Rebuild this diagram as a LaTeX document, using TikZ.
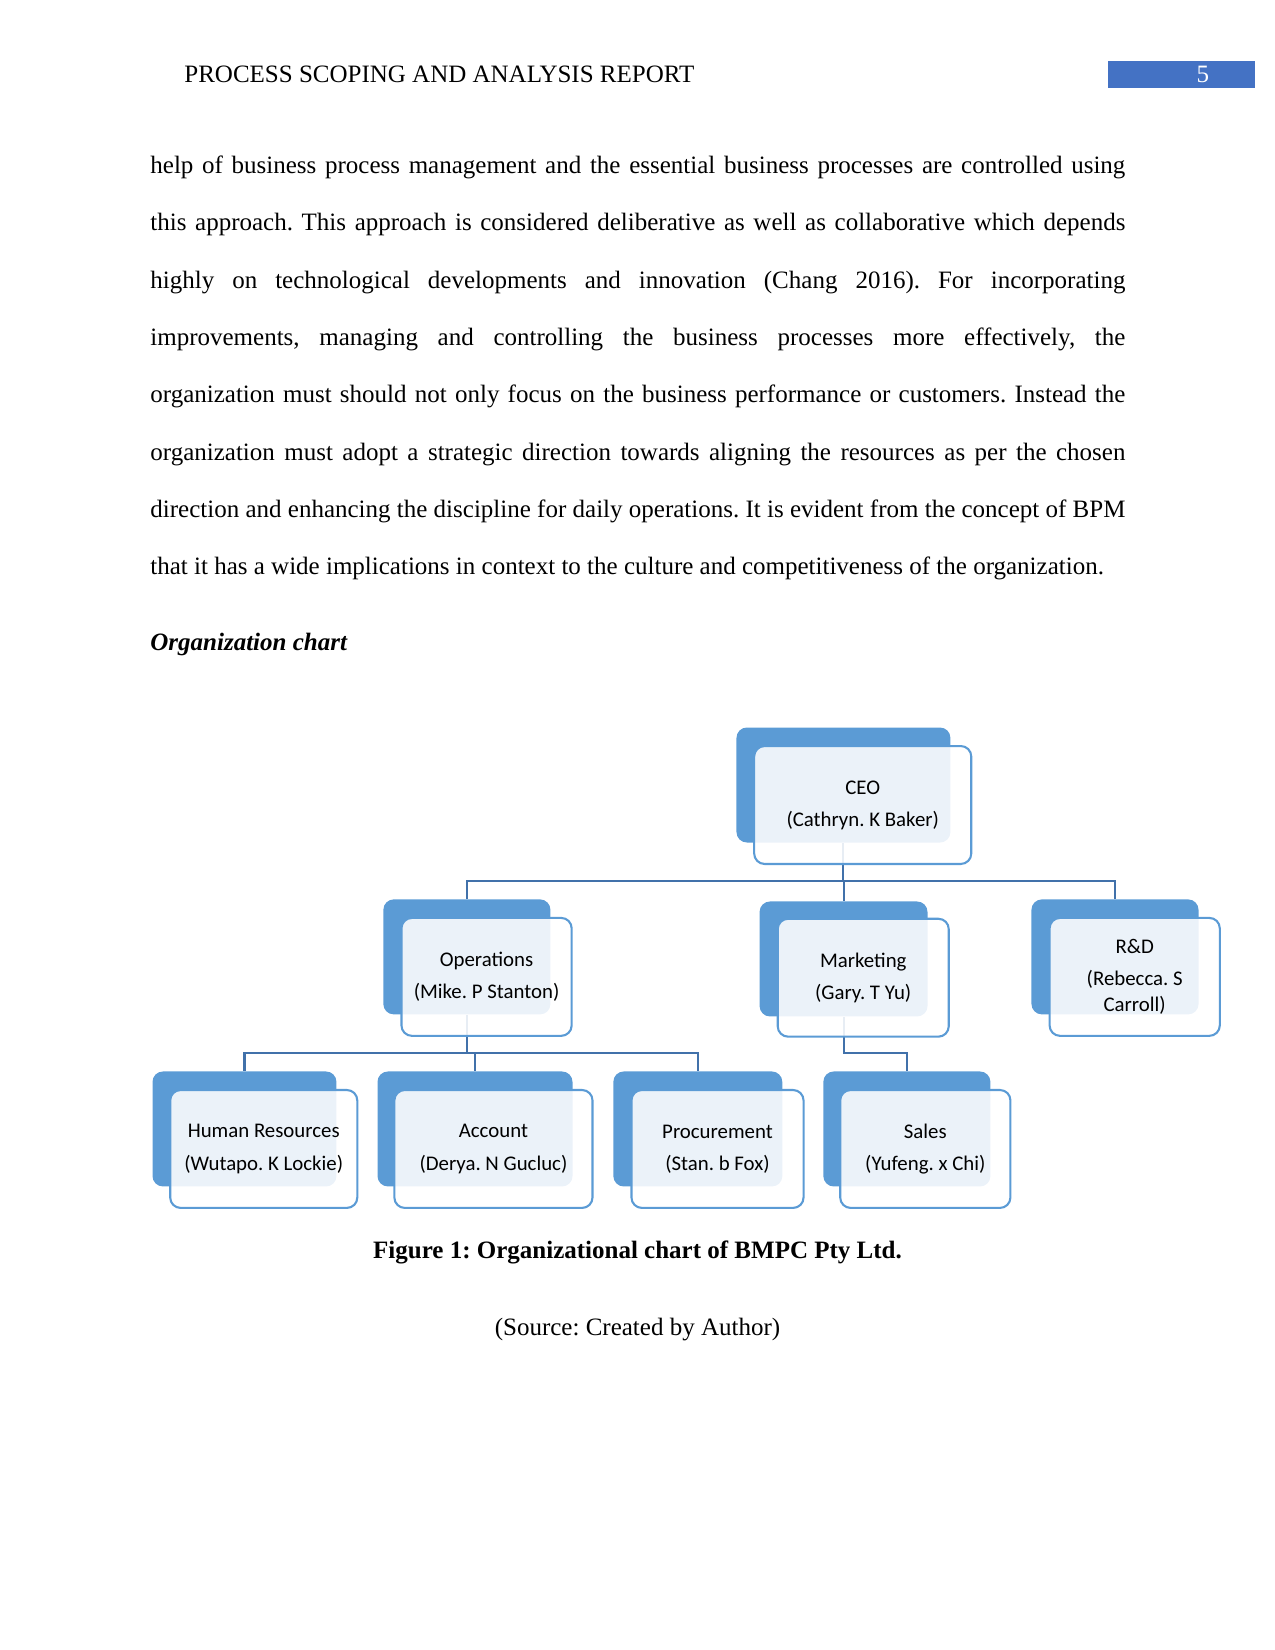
\documentclass[tikz,border=0pt]{standalone}
\usepackage{fontspec}
\setmainfont{Liberation Serif}
\newfontfamily\chartfont{Carlito}
\usetikzlibrary{positioning, backgrounds}
\frenchspacing
\definecolor{orgblue}{RGB}{91,155,213}
\definecolor{linkblue}{RGB}{65,113,170}
\definecolor{pageblue}{RGB}{68,114,196}
\tikzset{
  pagetext/.style={inner sep=0pt, font=\fontsize{12}{14}\selectfont},
  bodytext/.style={inner sep=0pt, text width=468pt, align=justify,
                   font=\fontsize{12}{27.5}\selectfont},
  orgback/.style={rectangle, rounded corners=5pt, fill=orgblue,
                  anchor=north west, minimum height=55.2pt, inner sep=0pt},
  orgfront/.style={rectangle, rounded corners=5pt, draw=orgblue, line width=1pt,
                   fill=white, fill opacity=0.88, text opacity=1,
                   minimum height=56.6pt, inner sep=0pt, align=center,
                   font=\chartfont\fontsize{10}{12.4}\selectfont},
  orgline/.style={draw=linkblue, line width=1pt},
}

\begin{document}
\begin{tikzpicture}[x=1pt, y=-1pt]
    \useasboundingbox (0,0) rectangle (612,792);
    % Cabecalho
    \node[pagetext, anchor=base west] (header) at (88.3,39.6)
      {PROCESS SCOPING AND ANALYSIS REPORT};
    \node[fill=pageblue, anchor=north west, minimum width=71pt, minimum height=12.9pt,
      inner sep=0pt] (pagebox) at (531.4,29.3) {};
    \node[pagetext, anchor=base, text=white] (pagenum) at (577.4,39.6) {5};
    % Texto
    \node[bodytext, anchor=base west] (body) at (72,83.3)
      {\hyphenpenalty=10000
       help of business process management and the essential business processes are controlled using\linebreak
       this approach. This approach is considered deliberative as well as collaborative which depends\linebreak
       highly on technological developments and innovation (Chang 2016). For incorporating\linebreak
       improvements, managing and controlling the business processes more effectively, the\linebreak
       organization must should not only focus on the business performance or customers. Instead the\linebreak
       organization must adopt a strategic direction towards aligning the resources as per the chosen\linebreak
       direction and enhancing the discipline for daily operations. It is evident from the concept of BPM\linebreak
       that it has a wide implications in context to the culture and competitiveness of the organization.};
    \node[pagetext, anchor=base west, font=\fontsize{12}{14}\selectfont\bfseries\itshape] (heading)
      at (72,312) {Organization chart};
    % Blocos de fundo
    \node[orgback, minimum width=102.7pt] (ceo-b) at (353.3,349.0) {};
    \node[orgback, minimum width=80.2pt] (ops-b) at (183.8,431.5) {};
    \node[orgback, minimum width=80.6pt] (mkt-b) at (364.4,432.5) {};
    \node[orgback, minimum width=80.2pt] (rd-b) at (494.9,431.5) {};
    \node[orgback, minimum width=88.3pt] (hr-b) at (73.0,514.1) {};
    \node[orgback, minimum width=93.6pt] (acc-b) at (181.0,514.1) {};
    \node[orgback, minimum width=81.1pt] (proc-b) at (294.2,514.1) {};
    \node[orgback, minimum width=80.2pt] (sales-b) at (395.0,514.1) {};
    % Ligacoes
    \begin{pgfonlayer}{background}
      \coordinate (bus1) at (ceo-b.south |- 0,422.9);
      \coordinate (bus2) at (ops-b.south |- 0,505.4);
      \coordinate (bus3) at (mkt-b.south |- 0,505.4);
      \draw[orgline] (ceo-b.south) -- (bus1) -| (ops-b.north);
      \draw[orgline] (bus1) -| (mkt-b.north);
      \draw[orgline] (bus1) -| (rd-b.north);
      \draw[orgline] (ops-b.south) -- (bus2) -| (hr-b.north);
      \draw[orgline] (bus2) -| (acc-b.north);
      \draw[orgline] (bus2) -| (proc-b.north);
      \draw[orgline] (mkt-b.south) -- (bus3) -| (sales-b.north);
    \end{pgfonlayer}
    % Blocos da frente
    \node[orgfront, minimum width=104.2pt, below right=8.6pt and 8.2pt of ceo-b.north west] (ceo)
      {CEO\\[3pt](Cathryn. K Baker)};
    \node[orgfront, minimum width=81.7pt, below right=8.6pt and 8.4pt of ops-b.north west] (ops)
      {Operations\\[3pt](Mike. P Stanton)};
    \node[orgfront, minimum width=82.1pt, below right=8.0pt and 8.4pt of mkt-b.north west] (mkt)
      {Marketing\\[3pt](Gary. T Yu)};
    \node[orgfront, minimum width=81.7pt, below right=8.6pt and 8.4pt of rd-b.north west] (rd)
      {R\&D\\[3pt](Rebecca. S\\Carroll)};
    \node[orgfront, minimum width=89.8pt, below right=8.6pt and 8.2pt of hr-b.north west] (hr)
      {Human Resources\\[3pt](Wutapo. K Lockie)};
    \node[orgfront, minimum width=95.1pt, below right=8.6pt and 7.8pt of acc-b.north west] (acc)
      {Account\\[3pt](Derya. N Gucluc)};
    \node[orgfront, minimum width=82.6pt, below right=8.6pt and 8.4pt of proc-b.north west] (proc)
      {Procurement\\[3pt](Stan. b Fox)};
    \node[orgfront, minimum width=81.7pt, below right=8.6pt and 7.8pt of sales-b.north west] (sales)
      {Sales\\[3pt](Yufeng. x Chi)};
    % Legenda
    \node[pagetext, anchor=base, font=\fontsize{12}{14}\selectfont\bfseries] (caption) at (306,604.3)
      {Figure 1: Organizational chart of BMPC Pty Ltd.};
    \node[pagetext, anchor=base] (source) at (306,640.8) {(Source: Created by Author)};
\end{tikzpicture}
\end{document}
